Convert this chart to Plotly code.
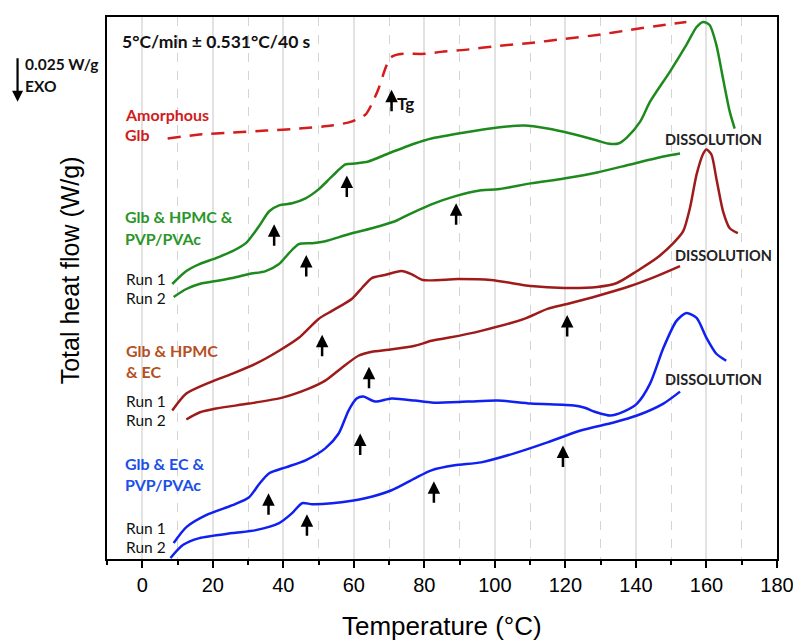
import plotly.graph_objects as go

# ---------------- data (temperature in °C, heat flow in stacked arbitrary units) ----------------
amorph_T = [7.2, 16.2, 25.5, 35.1, 44.4, 53.7, 59.3, 63.3, 65.0, 67.0, 68.9, 70.3, 72.0, 74.0, 80.2,
            84.7, 91.5, 100.8, 110.1, 119.7, 129.0, 138.3, 147.9, 154.3]
amorph_Q = [4.22, 4.26, 4.28, 4.30, 4.32, 4.35, 4.39, 4.46, 4.56, 4.72, 4.92, 5.03, 5.06, 5.07, 5.07,
            5.09, 5.11, 5.15, 5.18, 5.22, 5.26, 5.31, 5.36, 5.39]

g1_T = [8.5, 12.5, 16.2, 20.9, 25.6, 29.4, 33.1, 36.0, 38.8, 42.5, 46.3, 50.0, 53.8, 57.6, 60.4,
        64.1, 69.8, 77.3, 82.0, 91.4, 100.8, 108.3, 114.9, 121.5, 129.0, 132.0, 135.0, 137.4, 141.2,
        144.0, 149.6, 154.3, 157.2, 159.1, 160.9, 162.8, 164.7, 166.6, 168.0]
g1_Q = [2.76, 2.89, 2.96, 3.02, 3.09, 3.17, 3.34, 3.49, 3.55, 3.57, 3.62, 3.71, 3.84, 3.96, 3.97,
        3.99, 4.07, 4.17, 4.22, 4.28, 4.33, 4.35, 4.32, 4.27, 4.20, 4.17, 4.17, 4.23, 4.39,
        4.59, 4.89, 5.16, 5.34, 5.39, 5.36, 5.16, 4.82, 4.49, 4.32]

g2_T = [8.9, 12.5, 16.2, 20.9, 25.6, 30.3, 35.0, 38.8, 41.6, 44.4, 48.2, 51.9, 58.5, 65.1, 71.7,
        76.3, 82.0, 88.6, 96.1, 100.8, 110.2, 119.6, 129.0, 138.4, 147.8, 152.5]
g2_Q = [2.63, 2.71, 2.76, 2.79, 2.82, 2.86, 2.89, 2.96, 3.07, 3.16, 3.17, 3.19, 3.26, 3.32, 3.39,
        3.47, 3.56, 3.64, 3.70, 3.71, 3.77, 3.82, 3.88, 3.96, 4.04, 4.07]

r1_T = [8.5, 12.5, 19.0, 25.6, 32.2, 38.8, 44.4, 50.0, 53.8, 59.4, 62.3, 65.1, 68.8, 73.5, 76.3,
        79.6, 89.5, 98.9, 110.2, 119.6, 129.0, 134.6, 140.3, 145.9, 150.6, 153.4, 155.3, 157.2,
        159.1, 160.0, 161.4, 162.8, 164.7, 166.6, 168.9]
r1_Q = [1.49, 1.66, 1.77, 1.86, 1.96, 2.09, 2.22, 2.41, 2.49, 2.61, 2.72, 2.82, 2.85, 2.89, 2.86,
        2.80, 2.81, 2.80, 2.74, 2.72, 2.73, 2.77, 2.89, 3.02, 3.17, 3.29, 3.52, 3.86,
        4.07, 4.11, 4.06, 3.82, 3.49, 3.32, 3.27]

r2_T = [12.5, 16.2, 20.9, 30.3, 39.7, 47.2, 51.9, 56.6, 61.3, 65.1, 69.8, 77.3, 82.0, 86.7, 96.1,
        108.3, 114.9, 120.5, 129.0, 138.4, 145.9, 152.5]
r2_Q = [1.40, 1.47, 1.51, 1.56, 1.62, 1.71, 1.79, 1.92, 2.04, 2.08, 2.10, 2.14, 2.19, 2.22, 2.29,
        2.41, 2.51, 2.56, 2.64, 2.74, 2.84, 2.94]

b1_T = [8.9, 12.5, 18.1, 25.6, 30.3, 33.1, 36.0, 40.7, 46.3, 51.9, 55.7, 58.5, 60.8, 62.7, 66.0,
        70.7, 77.3, 82.0, 92.3, 100.8, 110.2, 122.4, 125.2, 129.0, 132.7, 136.5, 140.3,
        144.0, 147.8, 151.5, 154.3, 157.2, 160.0, 162.8, 165.6]
b1_Q = [0.16, 0.32, 0.44, 0.54, 0.62, 0.75, 0.86, 0.92, 0.99, 1.11, 1.26, 1.49, 1.61, 1.63, 1.58,
        1.61, 1.59, 1.57, 1.58, 1.59, 1.56, 1.54, 1.52, 1.47, 1.44, 1.48, 1.56,
        1.76, 2.12, 2.39, 2.47, 2.42, 2.22, 2.06, 1.99]

b2_T = [8.0, 11.5, 16.2, 25.6, 32.2, 38.8, 42.5, 45.3, 48.2, 53.8, 63.2, 70.7, 77.3, 82.0, 88.6,
        96.1, 105.5, 114.9, 124.3, 133.7, 140.3, 147.8, 152.5]
b2_Q = [0.01, 0.14, 0.21, 0.26, 0.29, 0.36, 0.46, 0.56, 0.55, 0.56, 0.61, 0.69, 0.81, 0.89, 0.94,
        0.97, 1.06, 1.17, 1.29, 1.37, 1.44, 1.56, 1.68]

# transition arrows (head position)
arrow_T = [70.7, 37.4, 58.0, 46.5, 89.0, 51.0, 64.3, 120.5, 61.8, 35.8, 46.7, 82.7, 119.3]
arrow_Q = [4.71, 3.36, 3.85, 3.05, 3.57, 2.25, 1.93, 2.45, 1.26, 0.66, 0.45, 0.78, 1.14]

x_ticks = [0, 20, 40, 60, 80, 100, 120, 140, 160, 180]

GREEN = "#1e8a1e"
DRED = "#9e1b1b"
BLUE = "#1020f0"
RED = "#d41c1c"

fig = go.Figure()

def add_line(T, Q, color, dash="solid"):
    fig.add_trace(go.Scatter(x=T, y=Q, mode="lines",
                             line=dict(color=color, width=2.5, dash=dash, shape="spline", smoothing=0.7),
                             showlegend=False, hoverinfo="skip"))

add_line(amorph_T, amorph_Q, RED, dash="13px,9px")
add_line(g1_T, g1_Q, GREEN)
add_line(g2_T, g2_Q, GREEN)
add_line(r1_T, r1_Q, DRED)
add_line(r2_T, r2_Q, DRED)
add_line(b1_T, b1_Q, BLUE)
add_line(b2_T, b2_Q, BLUE)

anns = []
for t, q in zip(arrow_T, arrow_Q):
    anns.append(dict(x=t, y=q, xref="x", yref="y", ax=0, ay=23, text="", showarrow=True,
                     arrowhead=2, arrowsize=1.0, arrowwidth=2.5, arrowcolor="black", standoff=0))

FONT = "Lato"

def label(text, x, y, color, size=16, bold=True, xanchor="left", xref="x"):
    t = f"<b>{text}</b>" if bold else text
    anns.append(dict(x=x, y=y, xref=xref, yref="y", text=t, showarrow=False, xanchor=xanchor,
                     yanchor="middle", font=dict(family=FONT, size=size, color=color)))

label("5°C/min ± 0.531°C/40 s", -6.2, 5.19, "#111111", size=17.5)
label("Tg", 71.6, 4.57, "#111111", size=17)
label("0.025 W/g", -0.125, 4.97, "#111111", size=15.5, xref="paper")
label("EXO", -0.125, 4.75, "#111111", size=15.5, xref="paper")
anns.append(dict(x=-0.1335, y=4.59, xref="paper", yref="y", ax=0, ay=-45, text="", showarrow=True,
                 arrowhead=2, arrowsize=1.0, arrowwidth=2.2, arrowcolor="black", standoff=0))

label("Amorphous", -5.6, 4.46, "#d01c1c")
label("Glb", -5.6, 4.26, "#d01c1c")
label("Glb &amp; HPMC &amp;", -5.6, 3.44, "#2a962a")
label("PVP/PVAc", -5.6, 3.22, "#2a962a")
label("Run 1", -5.3, 2.81, "#111111", bold=False, size=15.5)
label("Run 2", -5.3, 2.62, "#111111", bold=False, size=15.5)
label("Glb &amp; HPMC", -5.3, 2.09, "#b5501f")
label("&amp; EC", -5.3, 1.88, "#b5501f")
label("Run 1", -5.3, 1.59, "#111111", bold=False, size=15.5)
label("Run 2", -5.3, 1.40, "#111111", bold=False, size=15.5)
label("Glb &amp; EC &amp;", -5.6, 0.96, "#1a4fe8")
label("PVP/PVAc", -5.6, 0.75, "#1a4fe8")
label("Run 1", -5.3, 0.31, "#111111", bold=False, size=15.5)
label("Run 2", -5.3, 0.12, "#111111", bold=False, size=15.5)
label("DISSOLUTION", 162.0, 4.21, "#222222", size=14.5, xanchor="center")
label("DISSOLUTION", 164.8, 3.05, "#222222", size=14.5, xanchor="center")
label("DISSOLUTION", 162.0, 1.80, "#222222", size=14.5, xanchor="center")

# axis titles
anns.append(dict(x=0.5, y=-0.123, xref="paper", yref="paper", text="Temperature (°C)", showarrow=False,
                 xanchor="center", yanchor="middle",
                 font=dict(family="Liberation Sans", size=26, color="black")))
anns.append(dict(x=-0.0549, y=0.533, xref="paper", yref="paper", text="Total heat flow (W/g)",
                 showarrow=False, textangle=-90, xanchor="center", yanchor="middle",
                 font=dict(family="Liberation Sans", size=25, color="black")))

# page body adds an 8 px offset, so the figure is 8 px smaller and margins shifted
fig.update_layout(
    width=793, height=633,
    margin=dict(l=99, r=20, t=7, b=82),
    paper_bgcolor="white", plot_bgcolor="white",
    annotations=anns,
    xaxis=dict(range=[-10, 180], tickvals=x_ticks, ticktext=[str(v) for v in x_ticks],
               ticks="outside", ticklen=7, tickwidth=1.5, tickcolor="black",
               showline=True, linewidth=1.5, linecolor="black", mirror=True,
               showgrid=True, gridcolor="#e2e2e2", gridwidth=1.5, zeroline=False,
               tickfont=dict(family="Liberation Sans", size=20, color="black"),
               minor=dict(dtick=10, tick0=0, ticks="outside", ticklen=4, tickwidth=1.5,
                          tickcolor="black", showgrid=True, gridcolor="#d4d4d4",
                          griddash="dash", gridwidth=1)),
    yaxis=dict(range=[0, 5.44], showticklabels=False, ticks="", showgrid=False, zeroline=False,
               showline=True, linewidth=1.5, linecolor="black", mirror=True),
)

fig.write_html("out.html")
